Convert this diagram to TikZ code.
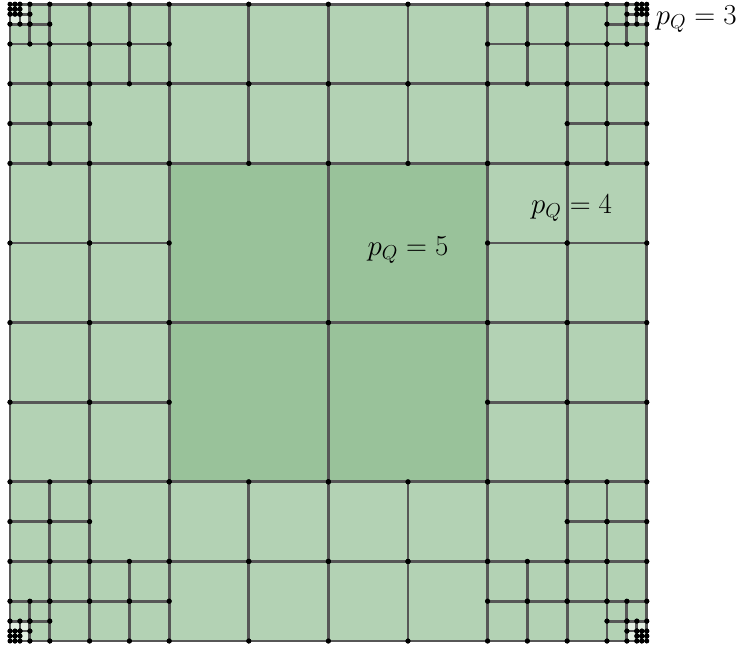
\documentclass[tikz,border=0pt]{standalone}
\usepackage{amsmath,amssymb}
\usetikzlibrary{calc}
\definecolor{pthree}{HTML}{E3EFE2}
\definecolor{pfour}{HTML}{B3D2B4}
\definecolor{pfive}{HTML}{99C29A}

\begin{document}
\begin{tikzpicture}[x=1cm,y=1cm,
		edge/.style={draw=black!66,line width=2pt},
		vtx/.style={fill=black},
		lab/.style={font=\huge,inner sep=0pt}]
	\useasboundingbox (-0.251,-0.176) rectangle (18.317,16.106);
	% cells of one quarter: x/y/size/colour
	\def\quadcells{0/0/0.125/pthree,0.125/0/0.125/pthree,0/0.125/0.125/pthree,0.125/0.125/0.125/pthree,
		0.25/0/0.25/pthree,0/0.25/0.25/pthree,0.25/0.25/0.25/pthree,
		0.5/0/0.5/pfour,0/0.5/0.5/pfour,0.5/0.5/0.5/pfour,
		1/0/1/pfour,2/0/1/pfour,3/0/1/pfour,0/1/1/pfour,1/1/1/pfour,2/1/1/pfour,3/1/1/pfour,
		0/2/1/pfour,1/2/1/pfour,0/3/1/pfour,1/3/1/pfour,2/2/2/pfour,
		4/0/2/pfour,6/0/2/pfour,4/2/2/pfour,6/2/2/pfour,
		0/4/2/pfour,2/4/2/pfour,0/6/2/pfour,2/6/2/pfour,
		4/4/4/pfive}
	% fill
	\foreach \sx/\sy in {1/1,-1/1,1/-1,-1/-1}{
		\begin{scope}[shift={(8,8)},xscale=\sx,yscale=\sy,shift={(-8,-8)}]
			\foreach \x/\y/\s/\c in \quadcells
				\fill[\c] (\x,\y) rectangle ++(\s,\s);
		\end{scope}
	}
	% edges
	\foreach \sx/\sy in {1/1,-1/1,1/-1,-1/-1}{
		\begin{scope}[shift={(8,8)},xscale=\sx,yscale=\sy,shift={(-8,-8)}]
			\foreach \x/\y/\s/\c in \quadcells
				\draw[edge] (\x,\y) rectangle ++(\s,\s);
		\end{scope}
	}
	% vertices
	\foreach \sx/\sy in {1/1,-1/1,1/-1,-1/-1}{
		\begin{scope}[shift={(8,8)},xscale=\sx,yscale=\sy,shift={(-8,-8)}]
			\foreach \x/\y/\s/\c in \quadcells{
				\fill[vtx] (\x,\y) circle (0.063);
				\fill[vtx] ($(\x,\y)+(\s,0)$) circle (0.063);
				\fill[vtx] ($(\x,\y)+(0,\s)$) circle (0.063);
				\fill[vtx] ($(\x,\y)+(\s,\s)$) circle (0.063);
			}
		\end{scope}
	}
	\node[lab,anchor=west] (pthreelab) at (16.22,15.62) {$p_Q=3$};
	\node[lab] (pfourlab) at (14.11,10.87) {$p_Q=4$};
	\node[lab] (pfivelab) at (10.0,9.82) {$p_Q=5$};
\end{tikzpicture}
\end{document}
